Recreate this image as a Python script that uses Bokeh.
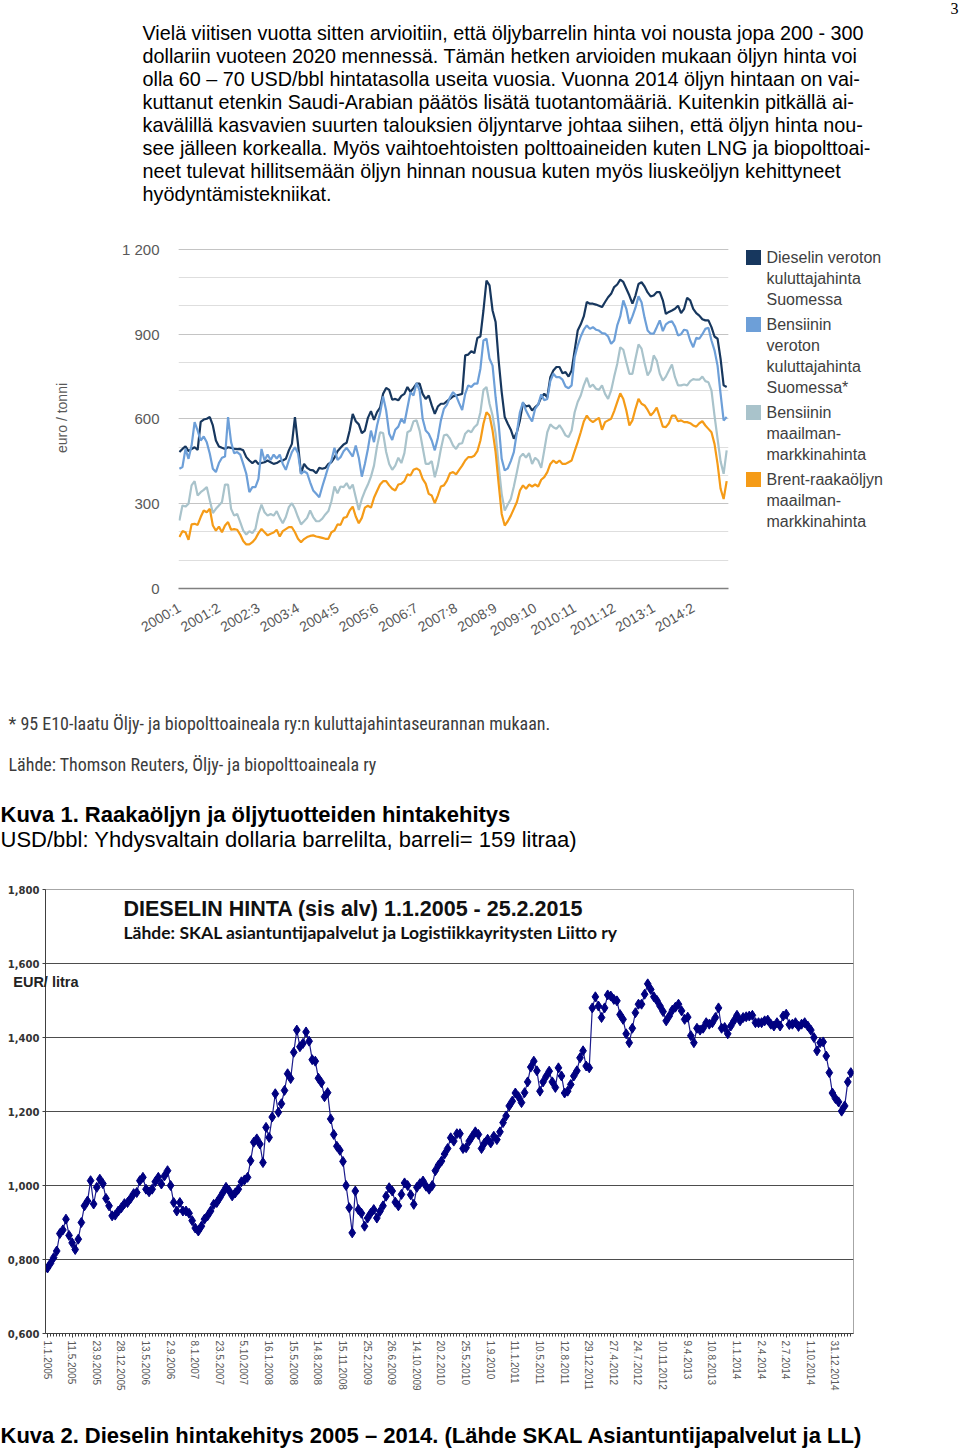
import math
from bokeh.plotting import figure
from bokeh.models import Range1d, FixedTicker, Grid, Label, LinearAxis
from bokeh.layouts import column, row
from bokeh.embed import file_html
from bokeh.resources import INLINE
from bokeh.core.properties import value

# ---------------- data ----------------
PARAGRAPH = [
    "Vielä viitisen vuotta sitten arvioitiin, että öljybarrelin hinta voi nousta jopa 200 - 300",
    "dollariin vuoteen 2020 mennessä. Tämän hetken arvioiden mukaan öljyn hinta voi",
    "olla 60 – 70 USD/bbl hintatasolla useita vuosia. Vuonna 2014 öljyn hintaan on vai-",
    "kuttanut etenkin Saudi-Arabian päätös lisätä tuotantomääriä. Kuitenkin pitkällä ai-",
    "kavälillä kasvavien suurten talouksien öljyntarve johtaa siihen, että öljyn hinta nou-",
    "see jälleen korkealla. Myös vaihtoehtoisten polttoaineiden kuten LNG ja biopolttoai-",
    "neet tulevat hillitsemään öljyn hinnan nousua kuten myös liuskeöljyn kehittyneet",
    "hyödyntämistekniikat.",
]
PAGE_NUMBER = "3"

C1_X_LABELS = ["2000:1", "2001:2", "2002:3", "2003:4", "2004:5", "2005:6", "2006:7",
               "2007:8", "2008:9", "2009:10", "2010:11", "2011:12", "2013:1", "2014:2"]
C1_Y_TICKS = [0, 300, 600, 900, 1200]
C1_Y_LABELS = ["0", "300", "600", "900", "1 200"]
C1_Y_TITLE = "euro / tonni"

# monthly values, 2000:1 ... 2015:1 (euro / tonni)
DIESEL = [483, 494, 503, 486, 494, 500, 491, 590, 598, 601,
          607, 577, 524, 503, 498, 494, 500, 498, 494, 493,
          494, 489, 465, 453, 444, 453, 441, 444, 447, 453,
          447, 441, 444, 451, 453, 459, 489, 512, 607, 512,
          406, 441, 427, 420, 418, 408, 427, 424, 427, 441,
          447, 463, 486, 498, 510, 516, 559, 618, 592, 581,
          550, 559, 604, 628, 597, 624, 640, 689, 710, 703,
          668, 671, 666, 682, 689, 713, 696, 710, 725, 725,
          689, 671, 683, 648, 618, 644, 654, 654, 663, 671,
          680, 683, 686, 689, 825, 828, 840, 833, 887, 892,
          984, 1090, 1073, 984, 943, 807, 695, 607, 583, 562,
          530, 553, 595, 656, 644, 648, 630, 642, 651, 677,
          689, 677, 748, 772, 784, 784, 762, 766, 750, 772,
          843, 913, 935, 963, 1014, 1008, 1008, 1005, 1001, 996,
          1014, 1031, 1043, 1067, 1076, 1093, 1085, 1061, 1037, 1008,
          1037, 1078, 1084, 1069, 1048, 1034, 1037, 1049, 1049, 1020,
          972, 979, 984, 990, 1001, 975, 990, 1029, 1020, 990,
          975, 966, 953, 949, 949, 925, 892, 884, 813, 719, 713]
PETROL_FI = [424, 430, 494, 459, 506, 589, 559, 524, 538, 518,
             477, 424, 412, 444, 463, 467, 607, 518, 479, 483,
             474, 441, 406, 341, 359, 359, 388, 494, 453, 474,
             455, 474, 460, 474, 441, 420, 453, 483, 500, 479,
             406, 415, 408, 376, 347, 335, 323, 361, 396, 432,
             453, 498, 455, 465, 486, 498, 483, 467, 506, 463,
             396, 441, 494, 559, 518, 577, 621, 680, 630, 548,
             526, 562, 573, 601, 585, 640, 695, 683, 727, 701,
             601, 559, 548, 524, 489, 533, 595, 636, 651, 677,
             695, 683, 656, 632, 689, 719, 713, 725, 725, 778,
             878, 884, 813, 789, 677, 583, 459, 418, 425, 451,
             483, 553, 624, 660, 630, 609, 591, 636, 651, 687,
             666, 671, 734, 760, 748, 748, 739, 715, 709, 719,
             819, 860, 892, 916, 931, 919, 925, 916, 913, 904,
             902, 892, 866, 878, 931, 963, 1020, 990, 937, 963,
             994, 1034, 1013, 958, 913, 902, 902, 925, 949, 911,
             935, 943, 946, 927, 896, 900, 916, 913, 878, 854,
             887, 884, 900, 919, 923, 878, 843, 789, 689, 595, 607]
PETROL_WORLD = [241, 294, 290, 300, 365, 380, 329, 341, 349, 359,
                312, 267, 282, 294, 306, 368, 368, 282, 258, 264,
                235, 205, 191, 203, 196, 211, 264, 297, 270, 258,
                264, 258, 274, 250, 231, 253, 288, 302, 282, 253,
                227, 238, 250, 276, 253, 238, 238, 247, 262, 274,
                309, 361, 337, 361, 359, 373, 353, 368, 323, 278,
                317, 345, 368, 396, 435, 503, 553, 550, 483, 441,
                420, 435, 463, 444, 479, 553, 559, 592, 595, 559,
                500, 441, 441, 451, 394, 435, 494, 542, 545, 530,
                506, 494, 512, 514, 548, 559, 553, 571, 581, 624,
                703, 713, 654, 612, 548, 435, 335, 276, 297, 317,
                361, 412, 465, 477, 463, 479, 441, 463, 453, 427,
                489, 553, 581, 571, 565, 578, 562, 542, 536, 559,
                624, 660, 683, 719, 746, 713, 722, 707, 703, 719,
                689, 671, 701, 750, 795, 854, 845, 801, 760, 760,
                813, 864, 849, 798, 754, 772, 825, 807, 760, 736,
                750, 772, 793, 748, 719, 719, 722, 719, 734, 741,
                739, 739, 750, 734, 730, 701, 612, 530, 450, 406, 489]
BRENT = [182, 203, 199, 172, 227, 229, 225, 253, 276, 270,
         282, 223, 205, 219, 199, 223, 235, 208, 210, 208,
         191, 168, 156, 156, 164, 176, 196, 211, 199, 188,
         194, 198, 208, 184, 203, 210, 217, 217, 199, 176,
         164, 175, 182, 186, 188, 184, 182, 179, 176, 176,
         199, 205, 227, 225, 250, 253, 276, 290, 255, 231,
         250, 286, 293, 286, 321, 345, 368, 380, 380, 365,
         353, 347, 368, 371, 380, 404, 400, 420, 425, 418,
         388, 371, 335, 329, 302, 329, 361, 365, 382, 408,
         412, 404, 420, 435, 453, 465, 465, 470, 486, 524,
         583, 624, 612, 559, 483, 371, 264, 223, 238, 258,
         282, 306, 347, 365, 353, 368, 361, 368, 361, 385,
         394, 412, 441, 453, 444, 453, 441, 441, 447, 453,
         486, 518, 553, 591, 612, 597, 589, 597, 604, 562,
         589, 595, 601, 628, 660, 691, 671, 630, 577, 595,
         636, 671, 654, 648, 632, 612, 624, 640, 607, 573,
         571, 585, 612, 612, 592, 595, 589, 589, 585, 577,
         573, 585, 592, 577, 565, 553, 512, 441, 353, 317, 380]

SERIES_COLORS = ["#17375e", "#6d9fd8", "#a9c3cb", "#f59b17"]
LEGEND_ENTRIES = [
    ["Dieselin veroton", "kuluttajahinta", "Suomessa"],
    ["Bensiinin", "veroton", "kuluttajahinta", "Suomessa*"],
    ["Bensiinin", "maailman-", "markkinahinta"],
    ["Brent-raakaöljyn", "maailman-", "markkinahinta"],
]
FOOTNOTES = ["* 95 E10-laatu Öljy- ja biopolttoaineala ry:n kuluttajahintaseurannan mukaan.",
             "Lähde: Thomson Reuters, Öljy- ja biopolttoaineala ry"]
CAPTION1 = "Kuva 1. Raakaöljyn ja öljytuotteiden hintakehitys"
CAPTION1_SUB = "USD/bbl: Yhdysvaltain dollaria barrelilta, barreli= 159 litraa)"

# chart 2: diesel price (EUR / litra), 1.1.2005 - 25.2.2015
DIESEL_PRICE = [
    0.777, 0.790, 0.805, 0.823, 0.870, 0.880, 0.909, 0.865, 0.845, 0.827,
    0.855, 0.900, 0.945, 0.958, 1.013, 0.950, 0.995, 1.017, 1.005, 0.965,
    0.945, 0.918, 0.920, 0.931, 0.940, 0.951, 0.954, 0.965, 0.978, 0.981,
    1.013, 1.022, 0.990, 0.983, 0.990, 1.010, 1.022, 1.004, 1.026, 1.040,
    1.000, 0.954, 0.931, 0.954, 0.931, 0.931, 0.925, 0.905, 0.885, 0.877,
    0.890, 0.909, 0.918, 0.931, 0.949, 0.954, 0.967, 0.981, 0.995, 0.986,
    0.972, 0.980, 0.990, 1.010, 1.015, 1.022, 1.067, 1.117, 1.126, 1.112,
    1.062, 1.157, 1.130, 1.185, 1.248, 1.198, 1.221, 1.257, 1.302, 1.289,
    1.360, 1.420, 1.375, 1.384, 1.415, 1.390, 1.340, 1.336, 1.290, 1.278,
    1.240, 1.251, 1.180, 1.138, 1.106, 1.095, 1.065, 1.000, 0.940, 0.872,
    0.985, 0.935, 0.925, 0.890, 0.912, 0.925, 0.935, 0.912, 0.930, 0.945,
    0.971, 0.994, 0.985, 0.955, 0.945, 0.976, 1.007, 1.000, 0.975, 0.949,
    0.995, 1.005, 1.012, 0.998, 0.990, 1.000, 1.040, 1.055, 1.066, 1.085,
    1.100, 1.129, 1.120, 1.140, 1.140, 1.100, 1.102, 1.120, 1.133, 1.145,
    1.138, 1.100, 1.115, 1.125, 1.115, 1.133, 1.124, 1.145, 1.170, 1.188,
    1.215, 1.228, 1.250, 1.240, 1.224, 1.251, 1.280, 1.320, 1.336, 1.310,
    1.255, 1.280, 1.295, 1.309, 1.280, 1.265, 1.318, 1.296, 1.250, 1.255,
    1.273, 1.296, 1.310, 1.345, 1.364, 1.323, 1.318, 1.480, 1.510, 1.485,
    1.454, 1.480, 1.515, 1.512, 1.503, 1.499, 1.462, 1.449, 1.410, 1.386,
    1.425, 1.467, 1.490, 1.490, 1.517, 1.545, 1.530, 1.510, 1.500, 1.485,
    1.470, 1.445, 1.458, 1.474, 1.482, 1.490, 1.472, 1.449, 1.455, 1.405,
    1.386, 1.425, 1.420, 1.425, 1.440, 1.436, 1.440, 1.454, 1.480, 1.425,
    1.427, 1.410, 1.431, 1.445, 1.460, 1.445, 1.454, 1.456, 1.458, 1.460,
    1.440, 1.440, 1.440, 1.445, 1.447, 1.436, 1.431, 1.440, 1.431, 1.458,
    1.463, 1.435, 1.436, 1.440, 1.430, 1.436, 1.440, 1.431, 1.420, 1.400,
    1.364, 1.386, 1.388, 1.350, 1.305, 1.250, 1.235, 1.226, 1.201, 1.215,
    1.280, 1.305]
C2_DATE_LABELS = ["1.1.2005", "11.5.2005", "23.9.2005", "28.12.2005", "13.5.2006", "2.9.2006",
                  "8.1.2007", "23.5.2007", "5.10.2007", "16.1.2008", "15.5.2008", "14.8.2008",
                  "15.11.2008", "25.2.2009", "26.6.2009", "14.10.2009", "20.2.2010", "25.5.2010",
                  "1.9.2010", "11.1.2011", "10.5.2011", "12.8.2011", "29.12.2011", "27.4.2012",
                  "24.7.2012", "10.11.2012", "9.4.2013", "10.8.2013", "1.1.2014", "2.4.2014",
                  "2.7.2014", "1.10.2014", "31.12.2014"]
C2_LABEL_EVERY = 8
C2_Y_TICKS = [0.6, 0.8, 1.0, 1.2, 1.4, 1.6, 1.8]
C2_Y_LABELS = ["0,600", "0,800", "1,000", "1,200", "1,400", "1,600", "1,800"]
C2_TITLE = "DIESELIN HINTA (sis alv) 1.1.2005 -  25.2.2015"
C2_SUBTITLE = "Lähde: SKAL asiantuntijapalvelut  ja Logistiikkayritysten  Liitto ry"
C2_UNIT = "EUR/ litra"
CAPTION2 = "Kuva 2. Dieselin hintakehitys 2005 – 2014. (Lähde SKAL Asiantuntijapalvelut ja LL)"

SANS = "Liberation Sans"
NARROW = "'Liberation Sans Narrow', 'Roboto Condensed', 'DejaVu Sans Condensed', 'Roboto'"
W = 960


def text_fig(w, h):
    p = figure(width=w, height=h, x_range=Range1d(0, w), y_range=Range1d(h, 0),
               output_backend="svg", toolbar_location=None, x_axis_type=None,
               y_axis_type=None, min_border=0, outline_line_color=None)
    return p


# ---------------- block 1: paragraph ----------------
H1 = 228
t1 = text_fig(W, H1)
t1.text(x=[142] * len(PARAGRAPH), y=[32 + 23 * i for i in range(len(PARAGRAPH))],
        text=PARAGRAPH, text_font=value(SANS), text_font_size="19.8px",
        text_baseline="middle", text_align="left", text_color="#000000")
t1.text(x=[958], y=[2], text=[PAGE_NUMBER], text_font=value("Liberation Serif"),
        text_font_size="16px", text_baseline="top", text_align="right", text_color="#000000")

# ---------------- block 2: chart 1 ----------------
H2 = 437
months = list(range(len(DIESEL)))
P1W = 736
p1 = figure(width=P1W, height=H2, x_range=Range1d(-0.3, 180.6), y_range=Range1d(0, 1207),
            output_backend="svg", toolbar_location=None, min_border_left=178,
            min_border_right=8, min_border_top=19, min_border_bottom=77,
            outline_line_color=None)
p1.xgrid.visible = False
p1.ygrid.ticker = FixedTicker(ticks=list(range(100, 1201, 100)))
p1.ygrid.grid_line_color = "#dedede"
p1.add_layout(Grid(dimension=1, ticker=FixedTicker(ticks=C1_Y_TICKS[1:]),
                   grid_line_color="#c4c4c4"))
for vals, col in zip([DIESEL, PETROL_FI, PETROL_WORLD, BRENT], SERIES_COLORS):
    p1.line(months, vals, line_color=col, line_width=2.2)

tick_months = [(int(l.split(":")[0]) - 2000) * 12 + int(l.split(":")[1]) - 1 for l in C1_X_LABELS]
p1.xaxis.ticker = FixedTicker(ticks=tick_months)
p1.xaxis.major_label_overrides = dict(zip(tick_months, C1_X_LABELS))
p1.xaxis.major_label_orientation = math.pi / 6
p1.xaxis.major_tick_line_color = None
p1.xaxis.minor_tick_line_color = None
p1.xaxis.major_tick_out = 0
p1.xaxis.major_tick_in = 0
p1.xaxis.axis_line_color = "#808080"
p1.xaxis.axis_line_width = 1.5
p1.xaxis.major_label_standoff = 18
p1.xaxis.major_label_text_font = SANS
p1.xaxis.major_label_text_font_size = "14px"
p1.xaxis.major_label_text_color = "#595959"

p1.yaxis.ticker = FixedTicker(ticks=C1_Y_TICKS)
p1.yaxis.major_label_overrides = dict(zip(C1_Y_TICKS, C1_Y_LABELS))
p1.yaxis.axis_line_color = None
p1.yaxis.major_tick_line_color = None
p1.yaxis.minor_tick_line_color = None
p1.yaxis.major_tick_out = 0
p1.yaxis.major_label_standoff = 19
p1.yaxis.major_label_text_font = SANS
p1.yaxis.major_label_text_font_size = "15px"
p1.yaxis.major_label_text_color = "#595959"
p1.yaxis.axis_label = C1_Y_TITLE
p1.yaxis.axis_label_standoff = 49
p1.yaxis.axis_label_text_font = SANS
p1.yaxis.axis_label_text_font_style = "normal"
p1.yaxis.axis_label_text_font_size = "14px"
p1.yaxis.axis_label_text_color = "#595959"

# legend panel
lg = text_fig(W - P1W, H2)
LINE_H, GAP, Y0 = 21, 4, 29
sq_x, sq_y, tx, ty, tt = [], [], [], [], []
cur = Y0
for entry in LEGEND_ENTRIES:
    sq_x.append(17)
    sq_y.append(cur)
    for k, line in enumerate(entry):
        tx.append(30)
        ty.append(cur + k * LINE_H)
        tt.append(line)
    cur += len(entry) * LINE_H + GAP
lg.rect(x=sq_x, y=sq_y, width=15, height=15, fill_color=SERIES_COLORS, line_color=None)
lg.text(x=tx, y=ty, text=tt, text_font=value(SANS), text_font_size="16px",
        text_baseline="middle", text_align="left", text_color="#404040")

# ---------------- block 3: footnotes / caption 1 ----------------
H3 = 210
t3 = text_fig(W, H3)
t3.text(x=[8, 8], y=[58, 99], text=FOOTNOTES, text_font=value(NARROW),
        text_font_size="18px", text_baseline="middle", text_align="left", text_color="#3c3c3c")
t3.text(x=[0], y=[149], text=[CAPTION1], text_font=value(SANS), text_font_size="22px",
        text_font_style="bold", text_baseline="middle", text_align="left", text_color="#000000")
t3.text(x=[0], y=[174], text=[CAPTION1_SUB], text_font=value(SANS), text_font_size="22px",
        text_baseline="middle", text_align="left", text_color="#000000")

# ---------------- block 4: chart 2 ----------------
H4 = 525
PX = 3.078
idx = list(range(len(DIESEL_PRICE)))
x0 = -0.65
p2 = figure(width=858, height=H4, x_range=Range1d(x0, x0 + 808 / PX), y_range=Range1d(0.6, 1.8),
            output_backend="svg", toolbar_location=None, min_border_left=45,
            min_border_right=5, min_border_top=14, min_border_bottom=67,
            outline_line_color="#a6a6a6")
p2.xgrid.visible = False
p2.ygrid.ticker = FixedTicker(ticks=C2_Y_TICKS[1:-1])
p2.ygrid.grid_line_color = "#4d4d4d"
p2.ygrid.grid_line_width = 1.2
p2.line(idx, DIESEL_PRICE, line_color="#1c1c8c", line_width=1.2)
p2.scatter(idx, DIESEL_PRICE, marker="diamond", size=10, fill_color="#000080",
           line_color="#000080")

label_idx = [k * C2_LABEL_EVERY for k in range(len(C2_DATE_LABELS))]
p2.xaxis.ticker = FixedTicker(ticks=label_idx, minor_ticks=idx)
p2.xaxis.major_label_overrides = dict(zip(label_idx, C2_DATE_LABELS))
p2.xaxis.major_label_orientation = "vertical"
p2.xaxis.major_tick_out = 4
p2.xaxis.major_tick_in = 0
p2.xaxis.minor_tick_out = 3
p2.xaxis.minor_tick_in = 0
p2.xaxis.major_tick_line_color = "#404040"
p2.xaxis.minor_tick_line_color = "#404040"
p2.xaxis.axis_line_color = "#404040"
p2.xaxis.major_label_standoff = 3
p2.xaxis.major_label_text_font = SANS
p2.xaxis.major_label_text_font_size = "10px"
p2.xaxis.major_label_text_color = "#595959"

p2.yaxis.ticker = FixedTicker(ticks=C2_Y_TICKS)
p2.yaxis.major_label_overrides = dict(zip(C2_Y_TICKS, C2_Y_LABELS))
p2.yaxis.axis_line_color = "#404040"
p2.yaxis.major_tick_line_color = "#404040"
p2.yaxis.minor_tick_line_color = None
p2.yaxis.major_tick_out = 3
p2.yaxis.major_tick_in = 0
p2.yaxis.major_label_standoff = 3
p2.yaxis.major_label_text_font = "DejaVu Sans"
p2.yaxis.major_label_text_font_style = "bold"
p2.yaxis.major_label_text_font_size = "10px"
p2.yaxis.major_label_text_color = "#333333"


def px_to_idx(x):
    return x0 + (x - 45) / PX


def py_to_val(y):
    return 1.8 - (y - 889) * 1.2 / 444


p2.add_layout(Label(x=px_to_idx(123), y=py_to_val(908), text=C2_TITLE, text_font=SANS,
                    text_font_style="bold", text_font_size="21.5px", text_baseline="middle",
                    text_color="#111111"))
p2.add_layout(Label(x=px_to_idx(123), y=py_to_val(932), text=C2_SUBTITLE, text_font="Lato",
                    text_font_style="bold", text_font_size="17.5px", text_baseline="middle",
                    text_color="#111111"))

# unit text "EUR/ litra" straddles the y axis: drawn as the single tick label of a
# helper axis in the left panel (side panels are not clipped to the frame)
unit_val = py_to_val(981)
unit_axis = LinearAxis(ticker=FixedTicker(ticks=[unit_val]),
                       major_label_overrides={unit_val: C2_UNIT},
                       axis_line_color=None, major_tick_line_color=None,
                       minor_tick_line_color=None, major_tick_out=0, major_tick_in=0,
                       minor_tick_out=0, minor_tick_in=0, major_label_standoff=-74,
                       major_label_text_font=SANS, major_label_text_font_style="bold",
                       major_label_text_font_size="14.5px", major_label_text_color="#222222")
p2.add_layout(unit_axis, "left")

# ---------------- block 5: caption 2 ----------------
H5 = 48
t5 = text_fig(W, H5)
t5.text(x=[0], y=[35], text=[CAPTION2], text_font=value(SANS), text_font_size="22px",
        text_font_style="bold", text_baseline="middle", text_align="left", text_color="#000000")

layout = column(row(t1), row(p1, column(lg)), row(t3), row(p2), row(t5))
open("out.html", "w").write(file_html(layout, INLINE))
